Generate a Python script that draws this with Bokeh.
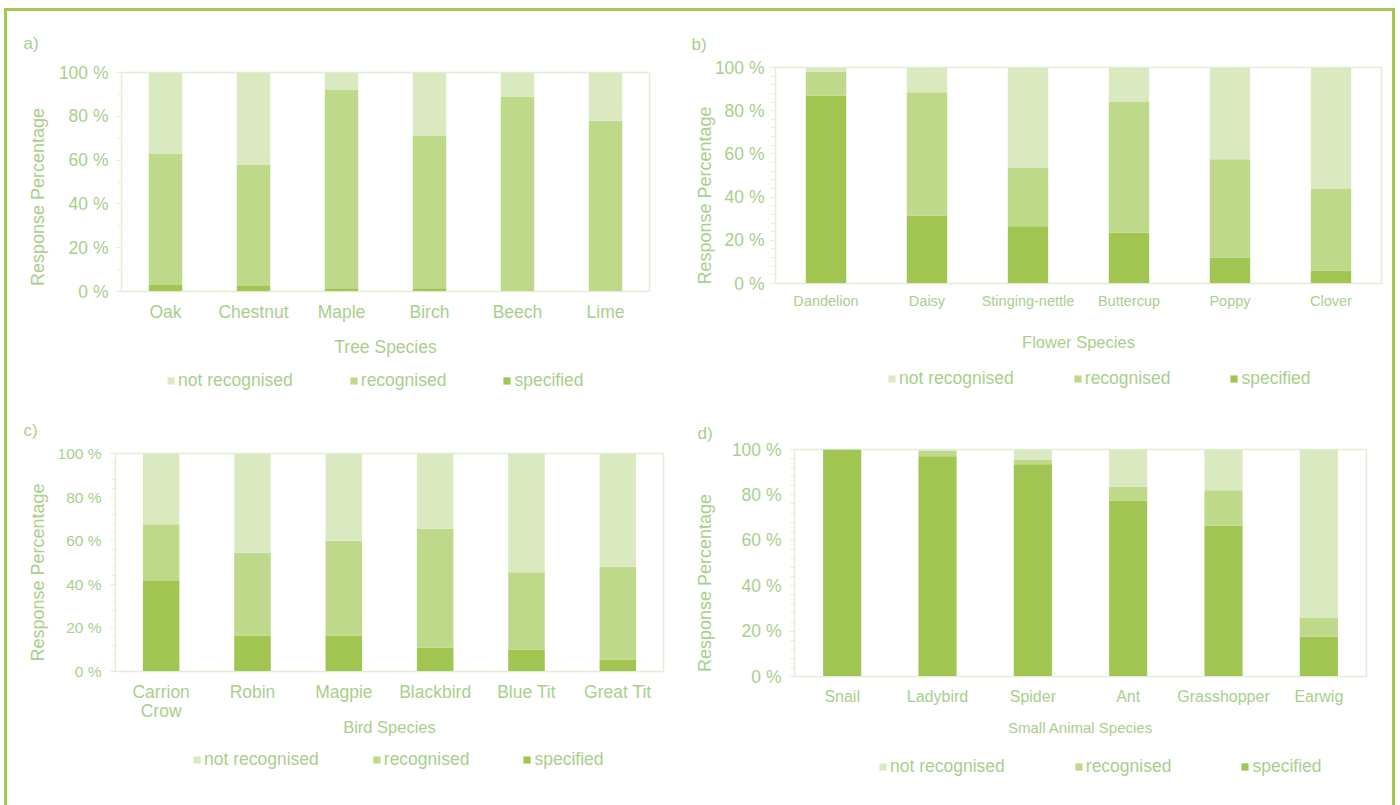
from bokeh.plotting import figure
from bokeh.models import (Range1d, FixedTicker, PrintfTickFormatter, Legend, LegendItem,
                          ColumnDataSource, CategoricalAxis, CustomJSTickFormatter)
from bokeh.layouts import column, row
from bokeh.embed import file_html
from bokeh.resources import INLINE

# ---------------- data ----------------
stack_names = ["specified", "recognised", "not recognised"]

tree_species = ["Oak", "Chestnut", "Maple", "Birch", "Beech", "Lime"]
tree_specified = [3, 2.5, 1.5, 1.5, 0, 0]
tree_recognised = [60, 55.5, 90.5, 69.5, 89, 78]
tree_not_recognised = [37, 42, 8, 29, 11, 22]

flower_species = ["Dandelion", "Daisy", "Stinging-nettle", "Buttercup", "Poppy", "Clover"]
flower_specified = [87, 31.5, 26.5, 23.5, 12, 6]
flower_recognised = [11, 57, 27, 60.5, 45.5, 38]
flower_not_recognised = [2, 11.5, 46.5, 16, 42.5, 56]

bird_species = ["Carrion Crow", "Robin", "Magpie", "Blackbird", "Blue Tit", "Great Tit"]
bird_specified = [41.5, 16.5, 16.5, 11, 10, 5.5]
bird_recognised = [26, 38, 43.5, 54.5, 35.5, 42.5]
bird_not_recognised = [32.5, 45.5, 40, 34.5, 54.5, 52]

animal_species = ["Snail", "Ladybird", "Spider", "Ant", "Grasshopper", "Earwig"]
animal_specified = [100, 97, 93.5, 77.5, 66.5, 17.5]
animal_recognised = [0, 2.5, 2, 6, 15.5, 8.5]
animal_not_recognised = [0, 0.5, 4.5, 16.5, 18, 74]

y_ticks = [0, 20, 40, 60, 80, 100]

# ---------------- style ----------------
SPEC = "#a0c550"
RECOG = "#bed98a"
NOTR = "#dbe9c1"
TEXT = "#a8cf8c"
LINE = "#e3eed5"
BORDER = "#a2c94f"
FONT = "Liberation Sans"
COLORS = [SPEC, RECOG, NOTR]
NBSP = "\u00a0"


def style_xaxis(xa, cfg):
    xa.axis_label_text_font = FONT
    xa.axis_label_text_font_size = cfg["xlfs"]
    xa.axis_label_text_font_style = "normal"
    xa.axis_label_text_color = TEXT
    xa.major_label_text_font = FONT
    xa.major_label_text_font_size = cfg["xfs"]
    xa.major_label_text_color = TEXT
    xa.major_label_orientation = "horizontal"
    xa.major_tick_line_color = None
    xa.minor_tick_line_color = None


def make_panel(tag, cats, spec, recog, notr, xlabel, cfg):
    src = ColumnDataSource(dict(cat=cats, specified=spec, recognised=recog,
                                **{"not recognised": notr}))
    p = figure(x_range=cats, y_range=Range1d(0, 100),
               width=cfg["w"], height=cfg["h"],
               min_border_left=cfg["bl"], min_border_right=cfg["br"],
               min_border_top=cfg["bt"], min_border_bottom=cfg["bb"],
               toolbar_location=None, output_backend="svg", title=tag)
    p.vbar_stack(stack_names, x="cat", width=cfg["bw"], source=src,
                 color=COLORS, line_color=None)
    p.xgrid.grid_line_color = None
    p.ygrid.grid_line_color = None
    p.outline_line_color = LINE
    p.outline_line_width = 1.5
    p.x_range.range_padding = 0

    # panel tag "a)" etc
    p.title.text_font = FONT
    p.title.text_font_size = "17px"
    p.title.text_font_style = "normal"
    p.title.text_color = TEXT
    p.title.align = "left"
    p.title.offset = cfg["toff"]
    p.title.standoff = cfg["tstand"]

    # y axis
    ya = p.yaxis[0]
    ya.ticker = FixedTicker(ticks=y_ticks, minor_ticks=cfg["minor"])
    ya.formatter = PrintfTickFormatter(format="%d %%")
    # trailing no-break spaces move the rotated title a little lower, as in the original
    ya.axis_label = "Response Percentage" + NBSP * cfg["ypad"]
    ya.axis_label_text_font = FONT
    ya.axis_label_text_font_size = "18px"
    ya.axis_label_text_font_style = "normal"
    ya.axis_label_text_color = TEXT
    ya.axis_label_standoff = cfg["ylstand"]
    ya.major_label_text_font = FONT
    ya.major_label_text_font_size = cfg["yfs"]
    ya.major_label_text_color = TEXT
    ya.major_label_standoff = cfg["ytstand"]
    ya.axis_line_color = LINE
    ya.major_tick_line_color = LINE
    ya.minor_tick_line_color = LINE
    ya.major_tick_in = 0
    ya.major_tick_out = 5
    ya.minor_tick_in = 0
    ya.minor_tick_out = 4

    # x axis
    xa = p.xaxis[0]
    style_xaxis(xa, cfg)
    xa.axis_line_color = LINE
    xa.major_label_standoff = cfg["xtstand"]
    if "line2" in cfg:
        # two-line factor label: first line on the main axis,
        # second line on an extra axis stacked below it
        xa.formatter = CustomJSTickFormatter(code=cfg["line1"])
        xa2 = CategoricalAxis()
        style_xaxis(xa2, cfg)
        xa2.axis_line_color = None
        xa2.formatter = CustomJSTickFormatter(code=cfg["line2"])
        xa2.major_label_standoff = cfg["x2stand"]
        xa2.axis_label = xlabel
        xa2.axis_label_standoff = cfg["xlstand"]
        p.add_layout(xa2, "below")
    else:
        xa.axis_label = xlabel
        xa.axis_label_standoff = cfg["xlstand"]

    # legend strip below the chart (its frame is aligned with the chart's frame)
    lf = figure(width=cfg["w"], height=cfg["lh"], x_range=Range1d(0, 1), y_range=Range1d(0, 1),
                x_axis_type=None, y_axis_type=None, min_border=0,
                toolbar_location=None, output_backend="svg")
    lf.outline_line_color = None
    lf.grid.visible = False
    # zero-size proxies, only used for the legend swatches
    lrs = [lf.vbar(x=[0], top=[0], bottom=[0], width=0, color=c, line_color=None)
           for c in COLORS]
    items = [LegendItem(label=stack_names[i], renderers=[lrs[i]]) for i in (2, 1, 0)]
    lg = Legend(items=items, orientation="horizontal", location=cfg["lloc"],
                border_line_color=None, background_fill_alpha=0,
                glyph_width=9, glyph_height=9, label_standoff=3,
                spacing=cfg["lspace"], padding=0, margin=0,
                label_text_font=FONT, label_text_font_size="17.5px",
                label_text_color=TEXT, label_height=18)
    lf.add_layout(lg, "center")
    return column(p, lf)


cfg_a = dict(w=683, h=354, bl=114, br=41, bt=61, bb=74, bw=0.38,
             toff=-98, tstand=39, minor=[10, 30, 50, 70, 90],
             yfs="17.5px", ytstand=8, ylstand=8, ypad=6,
             xfs="17.5px", xtstand=4, xlfs="17.5px", xlstand=12,
             lh=40, lspace=56, lloc=(45, 14))
cfg_b = dict(w=702, h=354, bl=85, br=11, bt=56, bb=82, bw=0.4,
             toff=-84, tstand=27, minor=[v for v in range(4, 100, 4) if v % 20],
             yfs="17.5px", ytstand=6, ylstand=-3, ypad=8,
             xfs="14.5px", xtstand=3, xlfs="16.5px", xlstand=21,
             lh=40, lspace=59, lloc=(112, 16))
cfg_c = dict(w=683, h=340, bl=108, br=27, bt=48, bb=74, bw=0.4,
             toff=-92, tstand=27, minor=[v for v in range(4, 100, 4) if v % 20],
             yfs="15.5px", ytstand=9, ylstand=7, ypad=4,
             xfs="17.5px", xtstand=4, xlfs="16.5px", xlstand=-6, x2stand=-10,
             lh=60, lspace=53, lloc=(77, 35),
             line1="return tick == 'Carrion Crow' ? 'Carrion' : tick;",
             line2="return tick == 'Carrion Crow' ? 'Crow' : '';")
cfg_d = dict(w=702, h=340, bl=104, br=26, bt=44, bb=69, bw=0.4,
             toff=-97, tstand=13, minor=[v for v in range(4, 100, 4) if v % 20],
             yfs="17.5px", ytstand=8, ylstand=14, ypad=8,
             xfs="16px", xtstand=5, xlfs="15px", xlstand=11,
             lh=60, lspace=69, lloc=(84, 28))

pa = make_panel("a)", tree_species, tree_specified, tree_recognised, tree_not_recognised,
                "Tree Species", cfg_a)
pb = make_panel("b)", flower_species, flower_specified, flower_recognised, flower_not_recognised,
                "Flower Species", cfg_b)
pc = make_panel("c)", bird_species, bird_specified, bird_recognised, bird_not_recognised,
                "Bird Species", cfg_c)
pd = make_panel("d)", animal_species, animal_specified, animal_recognised, animal_not_recognised,
                "Small Animal Species", cfg_d)

layout = column(row(pa, pb), row(pc, pd), margin=(8, 0, 0, 4),
                styles={"border-top": f"3px solid {BORDER}",
                        "border-left": f"3px solid {BORDER}",
                        "border-right": f"3px solid {BORDER}"})

open("out.html", "w").write(file_html(layout, INLINE))
